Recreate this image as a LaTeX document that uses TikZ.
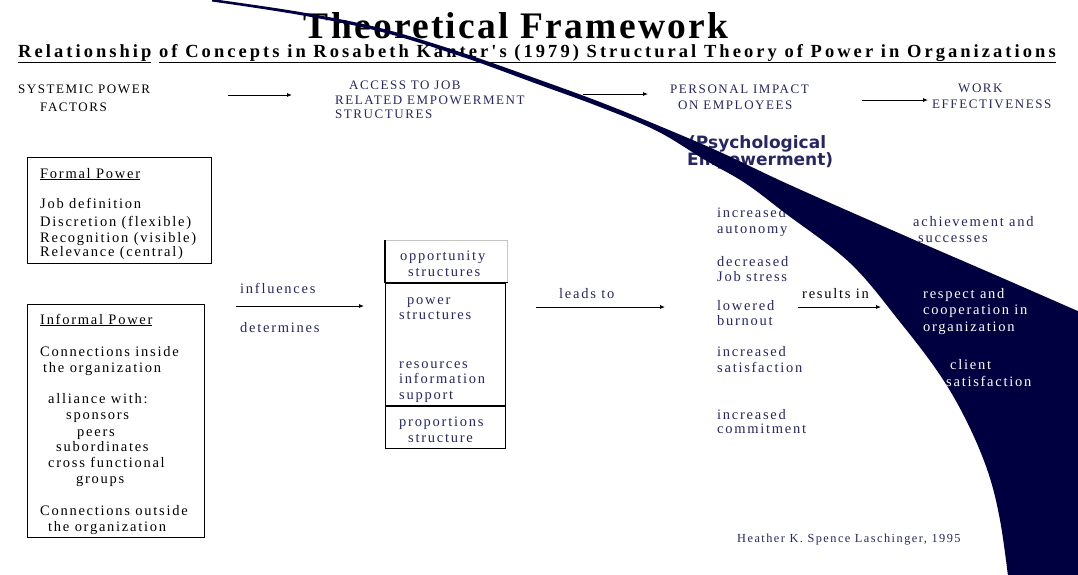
\documentclass[tikz,border=0pt]{standalone}
\usepackage{fontspec}
\setmainfont{Liberation Serif}
\newfontfamily\slidefont[LetterSpace=12]{Liberation Serif}
\newfontfamily\subtitlefont[LetterSpace=16.5]{Liberation Serif}
\newfontfamily\titlefont[LetterSpace=6]{Liberation Serif}
\newfontfamily\psyfont{DejaVu Sans}
\usetikzlibrary{arrows.meta}
\definecolor{navytext}{RGB}{38,38,98}
\definecolor{swooshblue}{RGB}{0,0,64}

\begin{document}
\begin{tikzpicture}[
    x=1pt, y=-1pt,
    headtext/.style={anchor=base west, inner sep=0pt, text=navytext,
                     font=\slidefont\fontsize{13}{15}\selectfont},
    bodytext/.style={anchor=base west, inner sep=0pt,
                     font=\slidefont\fontsize{14.5}{16}\selectfont},
    psytext/.style={anchor=base west, inner sep=0pt, text=navytext,
                    font=\psyfont\bfseries\fontsize{17}{18}\selectfont},
    sidebox/.style={rectangle, draw=black, line width=1.4pt, anchor=north west},
    stackbox/.style={rectangle, draw=black, line width=1.4pt, anchor=north west,
                     minimum width=120pt},
    arrow/.style={-{Latex[length=5pt,width=4pt]}, line width=0.8pt}
]
\useasboundingbox (0,0) rectangle (1078,574);
%% Title and subtitle
\node[anchor=base, inner sep=0pt, font=\titlefont\bfseries\fontsize{37.5}{40}\selectfont]
      (title) at (516,38) {Theoretical Framework};
\node[anchor=base west, inner sep=0pt, font=\subtitlefont\bfseries\fontsize{18.5}{20}\selectfont]
      (subtitle) at (18,57)
      {\underline{Relationship}\ \underline{of Concepts in Rosabeth Kanter's (1979) Structural Theory of Power in Organizations}};
%% Header row
\node[headtext, text=black] (sys1) at (18,93) {SYSTEMIC POWER};
\node[headtext, text=black] (sys2) at (40,111) {FACTORS};
\foreach \xpos/\ypos/\txt [count=\i] in {349/89/ACCESS TO JOB, 335/104/RELATED EMPOWERMENT,
        335/118/STRUCTURES, 670/93/PERSONAL IMPACT, 678/109/ON EMPLOYEES,
        958/92/WORK, 932/108/EFFECTIVENESS}
    \node[headtext] (head\i) at (\xpos,\ypos) {\txt};
\coordinate (a1s) at (228,95);  \coordinate (a1e) at (292,95);
\coordinate (a2s) at (583,94);  \coordinate (a2e) at (648,94);
\coordinate (a3s) at (862,100); \coordinate (a3e) at (928,100);
\draw[arrow] (a1s) -- (a1e);
\draw[arrow] (a2s) -- (a2e);
\draw[arrow] (a3s) -- (a3e);
\node[psytext] (psy1) at (688,148) {(Psychological};
\node[psytext] (psy2) at (687,165) {Empowerment)};
%% Formal power box
\node[sidebox, minimum width=184pt, minimum height=106pt] (formalbox) at (27,157) {};
\foreach \xpos/\ypos/\txt [count=\i] in {40/178/{\underline{Formal Power}}, 40/208/Job definition,
        40/226/Discretion (flexible), 40/242/Recognition (visible), 40/256/Relevance (central)}
    \node[bodytext] (formal\i) at (\xpos,\ypos) {\txt};
%% Informal power box
\node[sidebox, minimum width=177pt, minimum height=233pt] (informalbox) at (27,304) {};
\foreach \xpos/\ypos/\txt [count=\i] in {40/324/{\underline{Informal Power}}, 40/356/Connections inside,
        43/372/the organization, 48/403/alliance with:, 66/419/sponsors, 77/436/peers,
        56/451/subordinates, 48/467/cross functional, 76/483/groups,
        40/515/Connections outside, 48/531/the organization}
    \node[bodytext] (informal\i) at (\xpos,\ypos) {\txt};
%% influences / determines
\node[bodytext, text=navytext] (influences) at (240,293) {influences};
\node[bodytext, text=navytext] (determines) at (240,332) {determines};
\coordinate (infls) at (236,306); \coordinate (infle) at (364,306);
\draw[arrow] (infls) -- (infle);
%% Empowerment structures stack
\node[stackbox, draw=gray!45, line width=0.6pt, minimum width=122pt, minimum height=42pt]
      (oppbox) at (385,240) {};
\draw[line width=1.4pt] (oppbox.north west) -- (oppbox.south west) -- (oppbox.south east);
\node[stackbox, minimum height=122pt] (powbox) at (385,283) {};
\node[stackbox, minimum height=42pt] (propbox) at (385,406) {};
\foreach \xpos/\ypos/\txt [count=\i] in {400/260/opportunity, 408/276/structures, 407/304/power,
        399/319/structures, 399/368/resources, 399/383/information, 399/399/support,
        399/426/proportions, 408/442/structure}
    \node[bodytext, text=navytext] (stack\i) at (\xpos,\ypos) {\txt};
%% leads to
\node[bodytext, text=navytext] (leadsto) at (559,298) {leads to};
\coordinate (ls) at (536,307); \coordinate (le) at (665,307);
\draw[arrow] (ls) -- (le);
%% Personal impact column
\foreach \xpos/\ypos/\txt [count=\i] in {717/217/increased, 717/233/autonomy, 717/266/decreased,
        717/281/Job stress, 717/310/lowered, 717/325/burnout, 717/356/increased,
        717/372/satisfaction, 717/419/increased, 717/433/commitment}
    \node[bodytext, text=navytext] (impact\i) at (\xpos,\ypos) {\txt};
%% results in
\node[bodytext] (resultsin) at (802,298) {results in};
\coordinate (rs) at (798,307); \coordinate (re) at (881,307);
\draw[arrow] (rs) -- (re);
\node[bodytext, text=navytext] (achieve1) at (913,226) {achievement and};
\node[bodytext, text=navytext] (achieve2) at (918,242) {successes};
\node[bodytext, text=navytext, font=\slidefont\fontsize{12.3}{14}\selectfont]
      (credit) at (737,542) {Heather K. Spence Laschinger, 1995};
%% Swoosh
\fill[swooshblue] plot[smooth, tension=0.6] coordinates {(212,-1) (300,12) (380,28) (460,52)
        (540,80) (600,102) (657,125) (720,152) (790,185) (910,238) (1000,277) (1080,312)}
    -- (1080,576) -- (1008,576)
    -- plot[smooth, tension=0.6] coordinates {(1008,576) (1000,520) (988,472) (967,422)
        (940,375) (900,322) (850,263) (785,213) (745,183) (705,160) (657,131) (600,107)
        (540,85) (460,56) (380,31.5) (300,15) (212,1.5)} -- cycle;
%% Work effectiveness (on the swoosh)
\foreach \xpos/\ypos/\txt [count=\i] in {923/298/respect and, 923/314/cooperation in,
        923/331/organization, 950/369/client, 946/386/satisfaction}
    \node[bodytext, text=white] (work\i) at (\xpos,\ypos) {\txt};
\end{tikzpicture}
\end{document}
